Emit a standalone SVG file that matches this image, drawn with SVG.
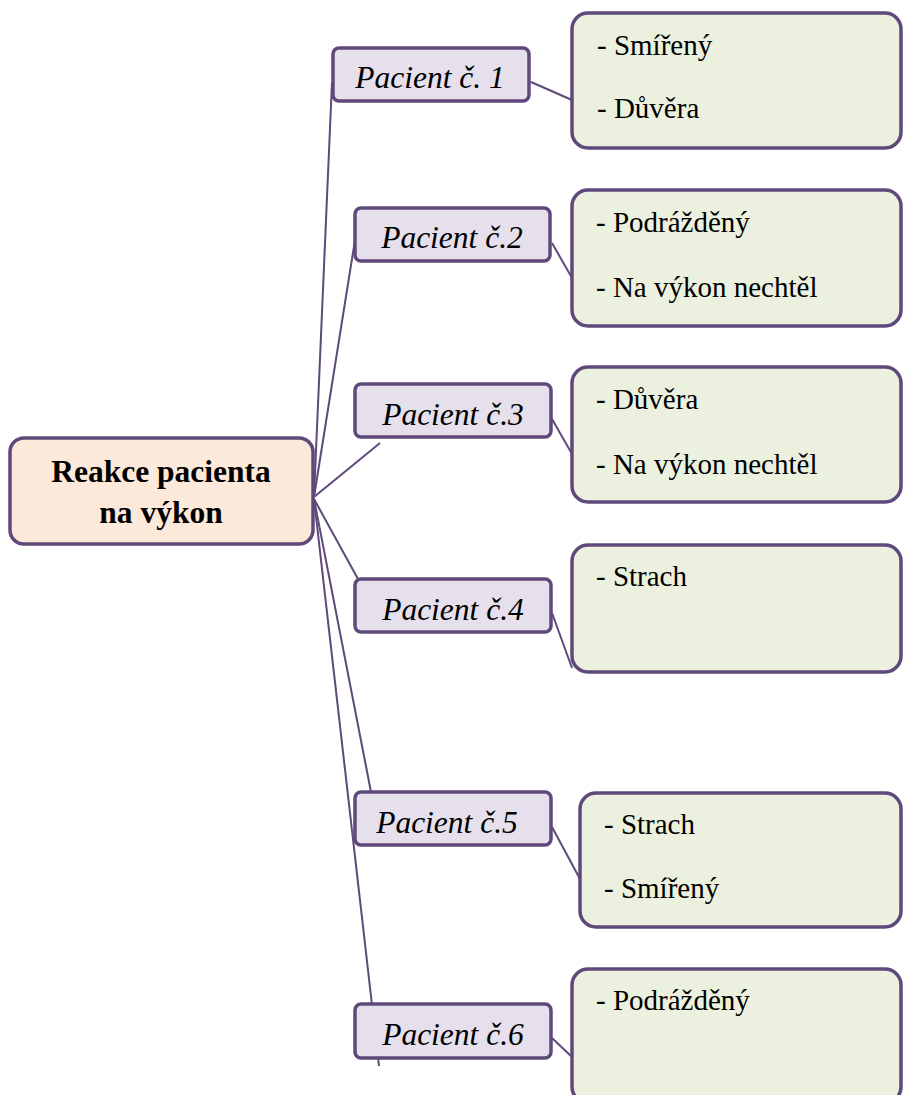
<svg xmlns="http://www.w3.org/2000/svg" width="903" height="1095" viewBox="0 0 903 1095">
<style>
.ln{stroke:#5f497a;stroke-width:2;fill:none}
.root{fill:#fde9d9;stroke:#5f497a;stroke-width:3.5}
.pac{fill:#e5e0ec;stroke:#5f497a;stroke-width:3.5}
.grn{fill:#ebf1de;stroke:#5f497a;stroke-width:3.5}
text{font-family:'Liberation Serif','Times New Roman',serif;fill:#000}
.rt{font-weight:bold;font-size:31.5px;text-anchor:middle}
.pt{font-style:italic;font-size:31.5px;text-anchor:middle}
.gt{font-size:29px}
</style>
<rect width="903" height="1095" fill="#fff"/>
<g id="connectors">
<line class="ln" x1="314" y1="497" x2="332" y2="82"/>
<line class="ln" x1="314" y1="497" x2="355" y2="240"/>
<line class="ln" x1="314" y1="497" x2="380" y2="443"/>
<line class="ln" x1="314" y1="499" x2="358" y2="579"/>
<line class="ln" x1="314" y1="499" x2="371" y2="792"/>
<line class="ln" x1="314" y1="499" x2="379" y2="1066"/>
<line class="ln" x1="531" y1="82" x2="572" y2="100"/>
<line class="ln" x1="552" y1="243" x2="572" y2="278"/>
<line class="ln" x1="552" y1="419" x2="572" y2="454"/>
<line class="ln" x1="552" y1="613" x2="572" y2="668"/>
<line class="ln" x1="552" y1="827" x2="580" y2="879"/>
<line class="ln" x1="552" y1="1038" x2="572" y2="1057"/>
</g>
<g id="root">
<rect class="root" x="10" y="438" width="303" height="106" rx="14"/>
<text class="rt" x="161" y="482">Reakce pacienta</text>
<text class="rt" x="161" y="523">na výkon</text>
</g>
<g id="p1">
<rect class="pac" x="333" y="48" width="196" height="53" rx="6"/>
<text class="pt" x="430" y="88">Pacient č. 1</text>
</g>
<g id="p2">
<rect class="pac" x="355" y="208" width="195" height="53" rx="6"/>
<text class="pt" x="452" y="248">Pacient č.2</text>
</g>
<g id="p3">
<rect class="pac" x="355" y="384" width="196" height="53" rx="6"/>
<text class="pt" x="453" y="425">Pacient č.3</text>
</g>
<g id="p4">
<rect class="pac" x="355" y="579" width="196" height="53" rx="6"/>
<text class="pt" x="453" y="620">Pacient č.4</text>
</g>
<g id="p5">
<rect class="pac" x="355" y="792" width="196" height="53" rx="6"/>
<text class="pt" x="447" y="833">Pacient č.5</text>
</g>
<g id="p6">
<rect class="pac" x="355" y="1004" width="196" height="54" rx="6"/>
<text class="pt" x="453" y="1045">Pacient č.6</text>
</g>
<g id="g1">
<rect class="grn" x="572" y="13" width="329" height="135" rx="16"/>
<text class="gt" x="597" y="55">- Smířený</text>
<text class="gt" x="597" y="118">- Důvěra</text>
</g>
<g id="g2">
<rect class="grn" x="572" y="190" width="329" height="136" rx="16"/>
<text class="gt" x="596" y="232">- Podrážděný</text>
<text class="gt" x="596" y="297">- Na výkon nechtěl</text>
</g>
<g id="g3">
<rect class="grn" x="572" y="367" width="329" height="135" rx="16"/>
<text class="gt" x="596" y="409">- Důvěra</text>
<text class="gt" x="596" y="474">- Na výkon nechtěl</text>
</g>
<g id="g4">
<rect class="grn" x="572" y="545" width="329" height="127" rx="16"/>
<text class="gt" x="596" y="586">- Strach</text>
</g>
<g id="g5">
<rect class="grn" x="580" y="793" width="321" height="134" rx="16"/>
<text class="gt" x="604" y="834">- Strach</text>
<text class="gt" x="604" y="898">- Smířený</text>
</g>
<g id="g6">
<rect class="grn" x="572" y="969" width="329" height="134" rx="16"/>
<text class="gt" x="596" y="1010">- Podrážděný</text>
</g>
</svg>
